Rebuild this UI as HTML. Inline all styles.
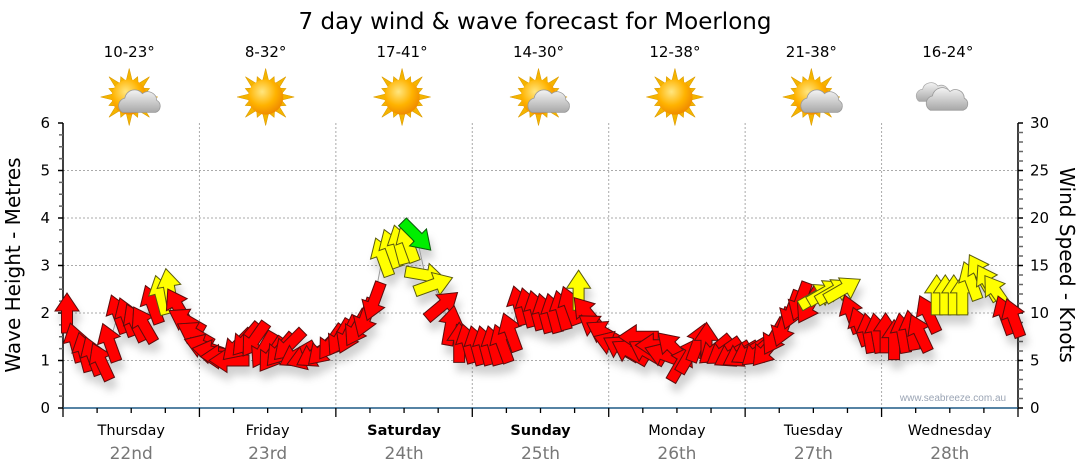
<!DOCTYPE html>
<html><head><meta charset="utf-8">
<style>
html,body{margin:0;padding:0;background:#fff;}
svg{display:block;font-family:"DejaVu Sans","Liberation Sans",sans-serif;}
</style></head>
<body>
<svg id="chart" width="1080" height="475" viewBox="0 0 1080 475">
<defs>
<filter id="sh" x="-50%" y="-50%" width="200%" height="200%"><feDropShadow dx="3" dy="9" stdDeviation="4" flood-color="#000" flood-opacity="0.18"/></filter>
<radialGradient id="sunG" cx="40%" cy="35%" r="65%"><stop offset="0" stop-color="#ffe680"/><stop offset="0.6" stop-color="#ffb300"/><stop offset="1" stop-color="#f08c00"/></radialGradient>
<linearGradient id="cloudG" x1="0" y1="0" x2="0" y2="1"><stop offset="0" stop-color="#f4f4f4"/><stop offset="1" stop-color="#a8a8a8"/></linearGradient>
</defs>
<text x="535" y="29" text-anchor="middle" font-size="23" fill="#000">7 day wind &amp; wave forecast for Moerlong</text>
<g id="header"></g>
<g id="grid"></g>
<g id="axes"></g>
<g id="series" filter="url(#sh)"></g>
<text x="953" y="401" text-anchor="middle" font-size="10" fill="#9aa4b4" font-family="Liberation Sans, sans-serif">www.seabreeze.com.au</text>
<text transform="translate(20,265) rotate(-90)" text-anchor="middle" font-size="20" fill="#000">Wave Height - Metres</text>
<text transform="translate(1060,265) rotate(90)" text-anchor="middle" font-size="20" fill="#000">Wind Speed - Knots</text>
</svg>
<script>
const days = ["Thursday","Friday","Saturday","Sunday","Monday","Tuesday","Wednesday"];
const dates = ["22nd","23rd","24th","25th","26th","27th","28th"];
const boldDays = [false,false,true,true,false,false,false];
const temps = ["10-23°","8-32°","17-41°","14-30°","12-38°","21-38°","16-24°"];
const icons = ["partly","sun","sun","partly","sun","partly","cloud"];
const waveTicks = [0,1,2,3,4,5,6];
const windTicks = [0,5,10,15,20,25,30];
const windSpeed = [
10.0,6.9,5.9,5.5,4.9,6.9,9.9,9.6,9.0,8.8,10.9,11.9,12.6,10.7,9.2,7.8,
6.5,5.9,5.4,5.0,6.6,7.2,7.2,6.1,5.6,6.1,6.6,5.6,5.3,5.6,6.1,6.9,
7.4,7.7,8.4,9.5,11.2,15.9,16.8,17.2,17.4,18.1,14.0,13.0,10.8,8.7,6.9,6.8,
6.6,6.6,6.6,6.8,8.0,10.8,10.6,10.3,10.0,10.0,10.3,10.8,12.4,10.0,8.5,7.9,
6.8,6.3,5.9,7.5,5.9,6.6,5.6,6.4,4.7,5.6,6.9,6.9,6.1,5.9,5.6,5.6,
5.9,5.9,6.1,7.5,8.5,10.3,11.2,10.8,11.8,12.2,12.3,12.5,9.9,8.6,7.9,7.9,
7.9,7.2,7.9,8.2,7.9,9.9,11.9,11.9,11.9,11.9,13.4,14.3,13.2,12.2,9.8,9.5];
const windDir = [
0,-15,-15,-20,-25,-20,-20,-20,-25,-30,-20,-15,-10,-30,-60,-60,
-70,-80,-90,-90,225,220,215,210,215,220,225,240,250,240,225,215,
210,205,210,200,200,-20,-20,-15,-20,135,100,70,50,10,0,-15,
-15,-15,-15,-20,-20,-15,-15,-15,-15,-15,-15,-20,0,-40,-55,-60,
-70,-60,-60,-90,-60,-90,-70,-45,30,30,20,0,230,235,240,240,
240,230,220,210,200,200,200,210,60,60,60,60,-20,-20,-10,-10,
0,0,-10,-10,-25,-25,0,0,0,0,-20,-30,-30,-35,-20,-20];

const NS="http://www.w3.org/2000/svg";
function mk(tag, attrs, parent){const e=document.createElementNS(NS,tag);for(const k in attrs)e.setAttribute(k,attrs[k]);parent.appendChild(e);return e;}
const X0=63, X1=1018, Y0=408, Y1=123;
const dayW=(X1-X0)/7;
const yWave=v=>Y0-(v/6)*(Y0-Y1);
const yWind=v=>Y0-(v/30)*(Y0-Y1);
const xPt=i=>X0+4+i*dayW/16;
const grid=document.getElementById('grid'), axes=document.getElementById('axes'), header=document.getElementById('header'), series=document.getElementById('series');

waveTicks.forEach(v=>{ if(v>0&&v<6){const l=mk('line',{x1:X0,x2:X1,y1:yWave(v),y2:yWave(v),stroke:'#aaa','stroke-dasharray':'2,2','stroke-width':1},grid);

}});
for(let d=1;d<7;d++){const x=X0+d*dayW;const l=mk('line',{x1:x,x2:x,y1:Y1,y2:Y0,stroke:'#aaa','stroke-dasharray':'2,2','stroke-width':1},grid);

}

let a=mk('line',{x1:X0,x2:X0,y1:Y1,y2:Y0,stroke:'#000','stroke-width':1.5},axes);


for(let k=0;k<=24;k++){const y=Y0-k*(Y0-Y1)/24;const maj=k%4===0;mk('line',{x1:maj?X0-5:X0-4,x2:X0,y1:y,y2:y,stroke:maj?'#000':'#666','stroke-width':1.5},axes);}
waveTicks.forEach(v=>{const t=mk('text',{x:X0-13,y:yWave(v)+5,'text-anchor':'end','font-size':15,fill:'#000'},axes);t.textContent=v;

});
a=mk('line',{x1:X1,x2:X1,y1:Y1,y2:Y0,stroke:'#000','stroke-width':1.5},axes);


for(let k=0;k<=30;k++){const y=yWind(k);const maj=k%5===0;mk('line',{x1:X1,x2:X1+5,y1:y,y2:y,stroke:maj?'#000':'#666','stroke-width':1.5},axes);}
windTicks.forEach(v=>{const t=mk('text',{x:X1+12,y:yWind(v)+5,'text-anchor':'start','font-size':15,fill:'#000'},axes);t.textContent=v;

});
a=mk('line',{x1:X0,x2:X1,y1:Y0,y2:Y0,stroke:'#1f5a85','stroke-width':1.5},axes);


for(let k=0;k<=28;k++){const x=X0+k*dayW/4;const maj=k%4===0;mk('line',{x1:x,x2:x,y1:Y0,y2:Y0+(maj?9:5),stroke:'#000','stroke-width':1.3},axes);}
days.forEach((d,i)=>{const cx=X0+dayW*(i+0.5);
const t=mk('text',{x:cx,y:435,'text-anchor':'middle','font-size':14.5,fill:'#000','font-weight':boldDays[i]?'bold':'normal'},axes);t.textContent=d;


const t2=mk('text',{x:cx,y:459,'text-anchor':'middle','font-size':17,fill:'#777'},axes);t2.textContent=dates[i];


const t3=mk('text',{x:cx-2,y:57,'text-anchor':'middle','font-size':15,fill:'#000'},header);t3.textContent=temps[i];


const g=mk('g',{transform:`translate(${cx-2},97) scale(1.1)`},header);


if(icons[i]!=='cloud'){
 let s='';for(let r=0;r<16;r++){const an=r*Math.PI/8;const L=r%2?20:26;const w=0.18;
  s+=`M${(15*Math.sin(an-w)).toFixed(1)},${(-15*Math.cos(an-w)).toFixed(1)} L${(L*Math.sin(an)).toFixed(1)},${(-L*Math.cos(an)).toFixed(1)} L${(15*Math.sin(an+w)).toFixed(1)},${(-15*Math.cos(an+w)).toFixed(1)} Z `;}
 mk('path',{d:s,fill:'#f5b400',stroke:'#d99a00','stroke-width':0.5},g);
 mk('circle',{cx:0,cy:0,r:16,fill:'url(#sunG)'},g);
 if(icons[i]==='partly'){mk('path',{d:'M-6,14 a7,7 0 0 1 2,-13 a9,9 0 0 1 16,-4 a8,8 0 0 1 13,6 a6,6 0 0 1 -1,11 Z',fill:'url(#cloudG)',stroke:'#999','stroke-width':0.7},g);}
}else{
 mk('path',{d:'M-26,4 a6,6 0 0 1 3,-11 a8,8 0 0 1 14,-3 a7,7 0 0 1 10,6 a5,5 0 0 1 0,8 Z',fill:'url(#cloudG)',stroke:'#aaa','stroke-width':0.7},g);
 mk('path',{d:'M-16,12 a7,7 0 0 1 2,-13 a9,9 0 0 1 16,-4 a8,8 0 0 1 13,6 a6,6 0 0 1 -1,11 Z',fill:'url(#cloudG)',stroke:'#999','stroke-width':0.7},g);
}
});

let pts=windSpeed.map((v,i)=>`${xPt(i).toFixed(1)},${yWind(v).toFixed(1)}`).join(' ');
const pl=mk('polyline',{points:pts,fill:'none',stroke:'#999','stroke-width':1},series);


const arrowD='M-5.5,20 L5.5,20 L5.5,-2 L12,-2 L0,-20 L-12,-2 L-5.5,-2 Z';
windSpeed.forEach((v,i)=>{
 const fill=v>=17.8?'#00ee00':(v>=11.5?'#ffff00':'#ff0000');
 const stroke=v>=17.8?'#0a5a0a':(v>=11.5?'#5a5a10':'#5a0a0a');
 const p=mk('path',{d:arrowD,fill:fill,stroke:stroke,'stroke-width':1,transform:`translate(${xPt(i).toFixed(1)},${yWind(v).toFixed(1)}) rotate(${windDir[i]})`},series);
 
 
});
</script>
</body></html>
